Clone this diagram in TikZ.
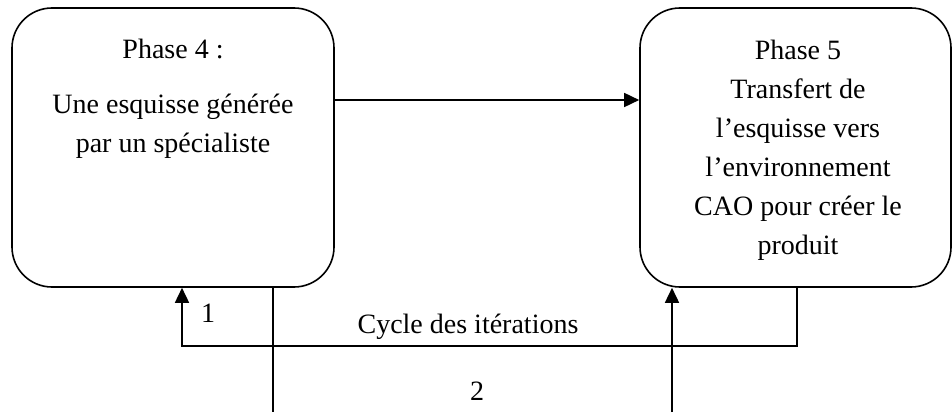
\documentclass[tikz,border=0pt]{standalone}
\usepackage{fontspec}
\setmainfont{Liberation Serif}
\usetikzlibrary{arrows.meta}
\begin{document}
\begin{tikzpicture}[x=1pt,y=-1pt,
  phasebox/.style={draw,line width=1.6pt,rounded corners=40pt,minimum height=279pt,inner sep=0pt},
  txt/.style={align=center,inner sep=0pt,font=\fontsize{28}{39}\selectfont},
  conn/.style={line width=1.6pt},
  arr/.style={conn,-{Triangle[length=15pt,width=14pt]}}]
\useasboundingbox (0,0) rectangle (952,412);
\node[phasebox,minimum width=322pt] (p4) at (173,147.5) {};
\node[phasebox,minimum width=311pt] (p5) at (795.5,147.5) {};
\node[txt,anchor=base] (t4a) at (173,59) {Phase 4 :};
\node[txt,anchor=base] (t4b) at (173,152) {Une esquisse générée\\par un spécialiste};
\node[txt,anchor=base] (t5) at (798,254) {Phase 5\\Transfert de\\l’esquisse vers\\l’environnement\\CAO pour créer le\\produit};
% main arrow
\draw[arr] (p4.east |- 0,100) -- (p5.west |- 0,100);
% iteration loop
\coordinate (l1) at (797,346);
\coordinate (l2) at (182,346);
\draw[arr] (p5.south -| l1) -- (l1) -- (l2) -- (p4.south -| l2);
% path 2
\coordinate (b1) at (273,412);
\coordinate (b2) at (672,412);
\draw[conn] (p4.south -| b1) -- (b1);
\draw[arr] (b2) -- (p5.south -| b2);
% labels
\node[txt,anchor=base] (n1) at (208,322) {1};
\node[txt,anchor=base] (cyc) at (468,333) {Cycle des itérations};
\node[txt,anchor=base] (n2) at (477,400) {2};
\end{tikzpicture}
\end{document}
